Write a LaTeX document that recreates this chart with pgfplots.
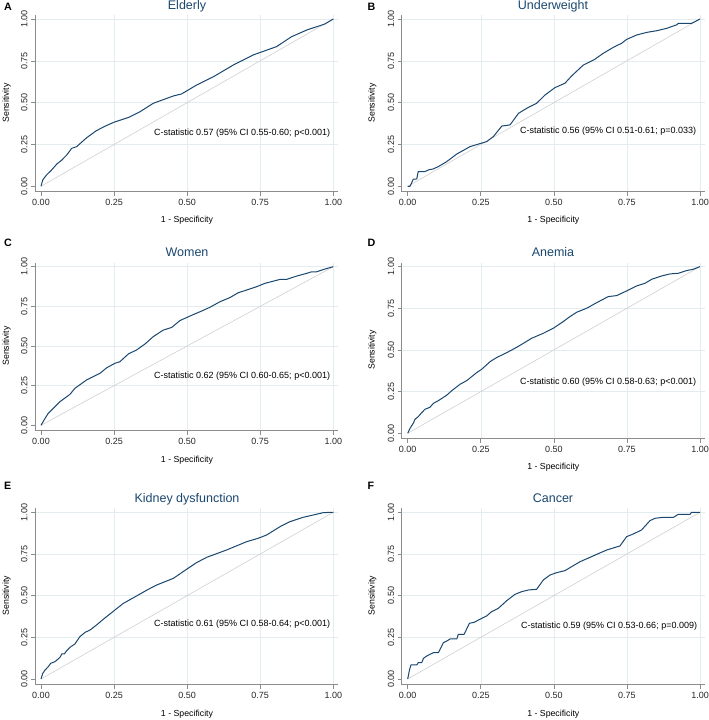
\documentclass[border=0pt]{standalone}
\usepackage{fontspec}
\setmainfont{Liberation Sans}
\usepackage{pgfplots}
\pgfplotsset{compat=1.18}
\definecolor{navy}{HTML}{1A476F}
\definecolor{gridc}{HTML}{E2EDEF}
\definecolor{spine}{HTML}{8C8C8C}
\definecolor{diag}{HTML}{CFCFCF}
\newcommand{\titlef}{\fontsize{12.5}{14}\selectfont}
\newcommand{\letf}{\fontsize{10.7}{12}\selectfont\bfseries}
\newcommand{\labf}{\fontsize{8.75}{10}\selectfont}
\newcommand{\annf}{\fontsize{9}{10}\selectfont}
\pgfplotsset{
 roc/.style={
  anchor=origin, xmin=-0.0205, xmax=1.017, ymin=-0.033, ymax=1.024,
  axis x line*=bottom, axis y line*=left,
  axis line style={spine, line width=0.8pt, -},
  every tick/.style={spine, line width=0.6pt},
  tick align=outside, major tick length=4pt,
  xtick={0.25,0.5,0.75,1}, ytick={0.25,0.5,0.75,1},
  xticklabels={0.25,0.50,0.75,1.00}, yticklabels={0.25,0.50,0.75,1.00},
  extra x ticks={0}, extra y ticks={0},
  extra x tick labels={0.00}, extra y tick labels={0.00},
  extra tick style={grid=none},
  /pgf/number format/assume math mode=true,
  ticklabel style={font=\fontsize{9}{10}\selectfont, text=black!85},
  yticklabel style={rotate=90, anchor=south},
  grid=major, grid style={gridc, line width=0.5pt},
  clip=false,
 },
 diagline/.style={diag, line width=0.6pt},
 curve/.style={navy, line width=1pt, line join=round},
}
\begin{document}
\begin{tikzpicture}
\path[use as bounding box] (0,0) rectangle (709pt,720pt);
% ---------------- A
\begin{axis}[roc, x=292.3pt, y=167.3pt, at={(41pt,533.7pt)}]
\addplot[diagline] coordinates {(0,0)(1,1)};
\addplot[curve] coordinates {
(0,0)(0.006,0.038)(0.019,0.068)(0.035,0.095)(0.054,0.133)(0.07,0.155)(0.088,0.187)(0.105,0.227)(0.122,0.237)
(0.156,0.29)(0.19,0.333)(0.22,0.36)(0.25,0.383)(0.30,0.412)(0.339,0.446)(0.384,0.496)(0.453,0.54)(0.481,0.552)
(0.533,0.606)(0.59,0.655)(0.658,0.725)(0.726,0.785)(0.806,0.835)(0.857,0.894)(0.909,0.934)(0.971,0.97)(1,1)};
\end{axis}
% ---------------- B
\begin{axis}[roc, x=292.3pt, y=167.3pt, at={(407.7pt,533.7pt)}]
\addplot[diagline] coordinates {(0,0)(1,1)};
\addplot[curve] coordinates {
(0,0)(0.008,0)(0.019,0.042)(0.031,0.044)(0.036,0.088)(0.059,0.088)(0.071,0.098)(0.088,0.104)(0.105,0.118)
(0.133,0.147)(0.168,0.193)(0.213,0.237)(0.27,0.267)(0.293,0.297)(0.322,0.36)(0.35,0.367)(0.379,0.436)
(0.407,0.466)(0.441,0.496)(0.47,0.546)(0.504,0.59)(0.538,0.616)(0.561,0.66)(0.601,0.725)(0.64,0.759)
(0.669,0.795)(0.704,0.831)(0.732,0.855)(0.749,0.878)(0.783,0.904)(0.818,0.92)(0.852,0.93)(0.886,0.944)
(0.92,0.965)(0.926,0.974)(0.971,0.974)(0.983,0.984)(1,1)};
\end{axis}
% ---------------- C
\begin{axis}[roc, x=292.3pt, y=158.6pt, at={(41pt,294.7pt)}]
\addplot[diagline] coordinates {(0,0)(1,1)};
\addplot[curve] coordinates {
(0,0)(0.014,0.044)(0.025,0.076)(0.048,0.118)(0.065,0.149)(0.099,0.195)(0.116,0.233)(0.156,0.286)(0.179,0.307)
(0.202,0.328)(0.225,0.363)(0.253,0.391)(0.27,0.401)(0.299,0.45)(0.327,0.475)(0.356,0.513)(0.384,0.559)
(0.418,0.6)(0.447,0.617)(0.475,0.66)(0.51,0.689)(0.544,0.716)(0.578,0.744)(0.612,0.779)(0.646,0.805)
(0.675,0.836)(0.704,0.853)(0.738,0.874)(0.766,0.895)(0.818,0.92)(0.84,0.92)(0.875,0.941)(0.909,0.958)
(0.926,0.968)(0.943,0.968)(0.971,0.985)(1,1)};
\end{axis}
% ---------------- D
\begin{axis}[roc, x=292.3pt, y=166.7pt, at={(407.7pt,286.7pt)}]
\addplot[diagline] coordinates {(0,0)(1,1)};
\addplot[curve] coordinates {
(0,0)(0.008,0.03)(0.019,0.06)(0.025,0.084)(0.036,0.1)(0.048,0.124)(0.059,0.144)(0.076,0.156)(0.088,0.18)
(0.105,0.196)(0.133,0.228)(0.151,0.256)(0.179,0.294)(0.202,0.316)(0.236,0.364)(0.253,0.384)(0.282,0.43)
(0.304,0.454)(0.339,0.484)(0.373,0.516)(0.396,0.54)(0.424,0.57)(0.464,0.6)(0.498,0.63)(0.532,0.67)
(0.555,0.7)(0.578,0.726)(0.612,0.75)(0.647,0.784)(0.686,0.82)(0.715,0.826)(0.749,0.854)(0.783,0.884)
(0.812,0.9)(0.835,0.924)(0.869,0.944)(0.897,0.956)(0.926,0.96)(0.954,0.976)(0.977,0.984)(1,1)};
\end{axis}
% ---------------- E
\begin{axis}[roc, x=292.3pt, y=166.7pt, at={(41pt,41pt)}]
\addplot[diagline] coordinates {(0,0)(1,1)};
\addplot[curve] coordinates {
(0,0)(0.006,0.034)(0.014,0.054)(0.025,0.074)(0.033,0.094)(0.048,0.104)(0.065,0.13)(0.071,0.15)(0.08,0.15)
(0.088,0.17)(0.099,0.19)(0.116,0.21)(0.133,0.254)(0.151,0.28)(0.168,0.294)(0.19,0.324)(0.213,0.358)
(0.253,0.414)(0.282,0.454)(0.327,0.498)(0.367,0.538)(0.396,0.564)(0.453,0.604)(0.498,0.658)(0.532,0.698)
(0.567,0.73)(0.635,0.774)(0.704,0.824)(0.743,0.844)(0.772,0.864)(0.818,0.914)(0.852,0.944)(0.897,0.97)
(0.932,0.984)(0.966,0.998)(1,1)};
\end{axis}
% ---------------- F
\begin{axis}[roc, x=292.3pt, y=166.7pt, at={(407.7pt,41pt)}]
\addplot[diagline] coordinates {(0,0)(1,1)};
\addplot[curve] coordinates {
(0,0)(0.006,0.054)(0.011,0.084)(0.031,0.084)(0.036,0.098)(0.048,0.098)(0.054,0.124)(0.065,0.138)(0.076,0.148)
(0.088,0.158)(0.105,0.158)(0.122,0.218)(0.136,0.23)(0.145,0.24)(0.168,0.24)(0.173,0.268)(0.193,0.268)
(0.211,0.334)(0.227,0.34)(0.247,0.358)(0.27,0.378)(0.287,0.404)(0.31,0.424)(0.339,0.47)(0.367,0.508)
(0.39,0.524)(0.413,0.534)(0.441,0.538)(0.464,0.594)(0.487,0.624)(0.51,0.638)(0.538,0.65)(0.561,0.674)
(0.59,0.704)(0.624,0.73)(0.647,0.748)(0.681,0.774)(0.726,0.798)(0.749,0.854)(0.772,0.87)(0.8,0.894)
(0.829,0.95)(0.846,0.964)(0.875,0.97)(0.909,0.97)(0.926,0.988)(0.966,0.988)(0.971,1)(1,1)};
\end{axis}
% ---------------- titles
\foreach \t/\x/\y in {Elderly/187/710, Underweight/553/710, Women/187/463.3, Anemia/553/463.3, Kidney dysfunction/187/217.7, Cancer/553/217.7}
  \node[font=\titlef, text=navy, anchor=base, inner sep=0pt] at (\x pt,\y pt) {\t};
% letters
\foreach \t/\x/\y in {A/4/709, B/367.3/709, C/4/473.3, D/367.3/473.3, E/4/230, F/367.3/230}
  \node[font=\letf, anchor=base west, inner sep=0pt] at (\x pt,\y pt) {\t};
% x labels
\foreach \x/\y in {187/497.3, 553.3/497.3, 187/257.7, 553.3/250, 187/3.3, 553.3/3.3}
  \node[font=\labf, anchor=base, inner sep=0pt] at (\x pt,\y pt) {1 - Specificity};
% y labels
\foreach \x/\y in {9/617, 374.5/617, 9/374, 374.5/370, 9/124.3, 374.5/124.3}
  \node[font=\labf, anchor=base, rotate=90, inner sep=0pt] at (\x pt,\y pt) {Sensitivity};
% annotations
\node[font=\annf, anchor=base west, inner sep=0pt] at (154pt,584pt) {C-statistic 0.57 (95\% CI 0.55-0.60; p<0.001)};
\node[font=\annf, anchor=base west, inner sep=0pt] at (520pt,586pt) {C-statistic 0.56 (95\% CI 0.51-0.61; p=0.033)};
\node[font=\annf, anchor=base west, inner sep=0pt] at (154pt,341.7pt) {C-statistic 0.62 (95\% CI 0.60-0.65; p<0.001)};
\node[font=\annf, anchor=base west, inner sep=0pt] at (520pt,335.7pt) {C-statistic 0.60 (95\% CI 0.58-0.63; p<0.001)};
\node[font=\annf, anchor=base west, inner sep=0pt] at (154pt,93.3pt) {C-statistic 0.61 (95\% CI 0.58-0.64; p<0.001)};
\node[font=\annf, anchor=base west, inner sep=0pt] at (521pt,91.3pt) {C-statistic 0.59 (95\% CI 0.53-0.66; p=0.009)};
\end{tikzpicture}
\end{document}
